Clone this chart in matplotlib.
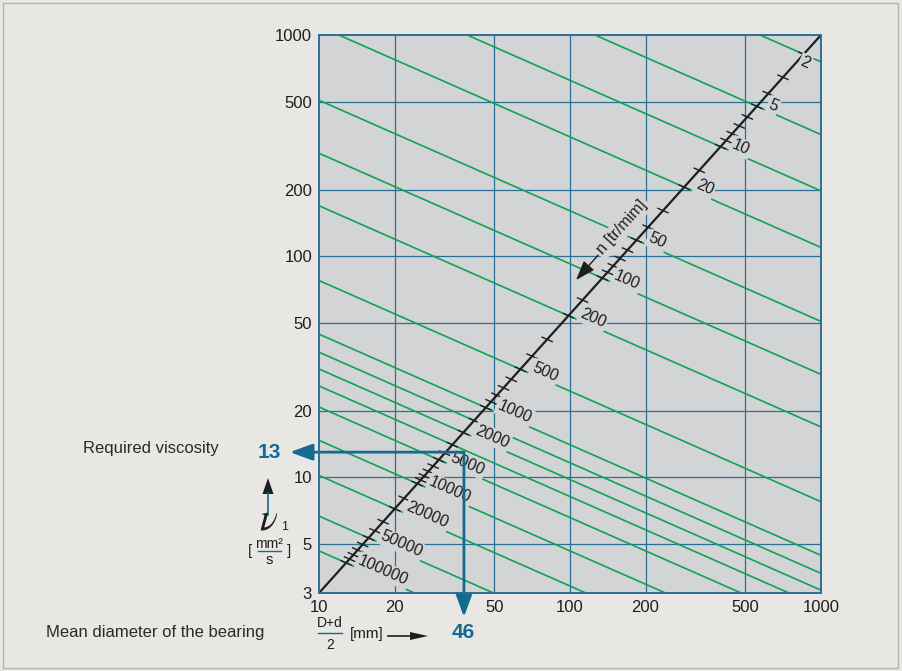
import numpy as np
import matplotlib
matplotlib.use("Agg")
import matplotlib.pyplot as plt
from matplotlib import font_manager
from matplotlib.lines import Line2D
from matplotlib.patches import Rectangle, Polygon

W, H = 902, 671

# axes
x_ticks = [10, 20, 50, 100, 200, 500, 1000]
y_ticks = [3, 5, 10, 20, 50, 100, 200, 500, 1000]
x_grid = [20, 50, 100, 200, 500]
y_grid = [5, 10, 20, 50, 100, 200, 500]

# speed lines n [tr/min] : viscosity read where each line meets dm = 10 mm
speed_n = [2, 5, 10, 20, 50, 100, 200, 500, 1000, 1500, 2000, 3000,
           5000, 10000, 20000, 50000, 100000]
speed_nu10 = [7560, 3546, 1973, 1095, 507, 292, 169, 77.6, 44.4, 36.8, 30.9,
              25.9, 20.8, 14.7, 10.2, 6.68, 4.65]
speed_slope = -0.5
speed_labels = [2, 5, 10, 20, 50, 100, 200, 500, 1000, 2000, 5000, 10000,
                20000, 50000, 100000]
speed_minor = [3, 4, 6, 7, 8, 9, 15, 30, 40, 60, 70, 80, 90, 150, 300, 400,
               600, 700, 800, 900, 1500, 3000, 4000, 6000, 7000, 8000, 9000,
               15000, 30000, 40000, 60000, 70000, 80000, 90000]

# the n scale runs corner to corner
scale_dm = [10, 1000]
scale_nu = [3, 1000]

# worked example
example_dm = 37.8
example_nu = 13
example_dm_text = "46"
example_nu_text = "13"

bg = "#e8e7e3"
plot_bg = "#d3d4d6"
grid_c = "#2c6f94"
green = "#0ea352"
blue = "#156a90"
ink = "#1e1e1e"

names = {f.name for f in font_manager.fontManager.ttflist}
narrow = "Liberation Sans Narrow" if "Liberation Sans Narrow" in names else "Liberation Sans"
label_size = 14 if narrow == "Liberation Sans Narrow" else 12
plt.rcParams["font.family"] = ["Liberation Sans", "DejaVu Sans"]
plt.rcParams["mathtext.fontset"] = "stix"

fig = plt.figure(figsize=(W / 100, H / 100), dpi=100, facecolor=bg)
ax = fig.add_axes([319 / W, 1 - 593 / H, (821 - 319) / W, (593 - 35) / H])
ax.set_facecolor(plot_bg)
ax.set_xscale("log")
ax.set_yscale("log")
ax.set_xlim(10, 1000)
ax.set_ylim(3, 1000)
ax.set_xticks(x_ticks)
ax.set_xticklabels([str(v) for v in x_ticks])
ax.set_yticks(y_ticks)
ax.set_yticklabels([str(v) for v in y_ticks])
ax.minorticks_off()
ax.tick_params(length=0, labelsize=12, colors=ink)
ax.tick_params(axis="x", pad=5)
ax.tick_params(axis="y", pad=5)
for s in ax.spines.values():
    s.set_color(grid_c)
    s.set_linewidth(1.4)
    s.set_zorder(6)
for v in x_grid:
    ax.axvline(v, color=grid_c, lw=0.9, zorder=1)
for v in y_grid:
    ax.axhline(v, color=grid_c, lw=0.9, zorder=1)

# constant speed lines
for nu10 in speed_nu10:
    ax.plot([10, 1000], [nu10, nu10 * (1000 / 10) ** speed_slope],
            color=green, lw=1.2, zorder=2)

# n scale
ax.plot(scale_dm, scale_nu, color=ink, lw=1.6, zorder=3)

a = np.log10(scale_nu[0])
s_diag = (np.log10(scale_nu[1]) - a) / (np.log10(scale_dm[1]) - np.log10(scale_dm[0]))


def on_scale(n):
    lnu = np.interp(np.log10(n), np.log10(speed_n), np.log10(speed_nu10))
    u = (lnu - a) / (s_diag - speed_slope)
    return 10 ** (np.log10(scale_dm[0]) + u), 10 ** (a + s_diag * u)


def green_dir(dm, nu):
    p0 = ax.transData.transform((dm, nu))
    p1 = ax.transData.transform((dm * 10, nu * 10 ** speed_slope))
    d = p1 - p0
    return p0, d / np.hypot(*d)


for n in speed_labels + speed_minor:
    dm, nu = on_scale(n)
    p0, d = green_dir(dm, nu)
    seg = ax.transData.inverted().transform([p0 - 5.5 * d, p0 + 5.5 * d])
    ax.plot(seg[:, 0], seg[:, 1], color=ink, lw=1.0, zorder=3)

label_offset = {2: (-2, -5)}
for n in speed_labels:
    dm, nu = on_scale(n)
    p0, d = green_dir(dm, nu)
    ang = np.degrees(np.arctan2(d[1], d[0]))
    ax.annotate(str(n), xy=(dm, nu), xytext=label_offset.get(n, (9, 2)),
                textcoords="offset points", rotation=ang, rotation_mode="anchor",
                ha="left", va="center", fontsize=11.5, color=ink, zorder=4,
                bbox=dict(boxstyle="square,pad=0.1", fc=plot_bg, ec="none"))

# scale title and arrow
p0 = ax.transData.transform((scale_dm[0], scale_nu[0]))
p1 = ax.transData.transform((scale_dm[1], scale_nu[1]))
diag_ang = np.degrees(np.arctan2(p1[1] - p0[1], p1[0] - p0[0]))
ax.text(161, 135, "n [tr/mim]", rotation=diag_ang, rotation_mode="anchor",
        ha="center", va="center", fontsize=11.5, color=ink, zorder=4,
        bbox=dict(boxstyle="square,pad=0.15", fc=plot_bg, ec="none"))
ax.annotate("", xy=(105.7, 78), xytext=(129.3, 101),
            arrowprops=dict(arrowstyle="-|>,head_length=1.0,head_width=0.35",
                            color=ink, lw=1.0, mutation_scale=12,
                            shrinkA=0, shrinkB=0), zorder=4)

# worked example arrows
arrow_kw = dict(arrowstyle="-|>,head_length=1.15,head_width=0.42", color=blue,
                lw=2.0, mutation_scale=12, shrinkA=0, shrinkB=0)
ax.annotate("", xy=(-0.058, example_nu), xycoords=("axes fraction", "data"),
            xytext=(example_dm, example_nu), textcoords="data",
            arrowprops=arrow_kw, annotation_clip=False, zorder=5)
ax.annotate("", xy=(example_dm, -0.043), xycoords=("data", "axes fraction"),
            xytext=(example_dm, example_nu), textcoords="data",
            arrowprops=arrow_kw, annotation_clip=False, zorder=5)


def fp(x, y):
    return x / W, 1 - y / H


# left side
fig.text(*fp(151, 449), "Required viscosity", ha="center", va="center",
         fontsize=label_size, family=narrow, color="#2a2a2a")
fig.text(*fp(269, 452), example_nu_text, ha="center", va="center",
         fontsize=15, weight="bold", color=blue)
fig.add_artist(Line2D([268 / W] * 2, [1 - 515 / H, 1 - 493 / H], color=blue, lw=1.2))
fig.add_artist(Polygon([fp(262.5, 494), fp(273.5, 494), fp(268, 478)],
                       closed=True, fc=ink, ec="none", transform=fig.transFigure))
fig.text(*fp(269, 529), r"$\nu$", fontsize=27, ha="center", va="baseline", color=ink)
fig.text(*fp(285, 527), "1", fontsize=9, ha="center", va="center", color=ink)
fig.text(*fp(250, 551), "[", fontsize=11, ha="center", va="center", color=ink)
fig.text(*fp(289, 551), "]", fontsize=11, ha="center", va="center", color=ink)
fig.text(*fp(269, 544), "mm\u00b2", fontsize=10, ha="center", va="center", color=ink)
fig.add_artist(Line2D([258 / W, 281 / W], [1 - 551 / H] * 2, color=blue, lw=1.0))
fig.text(*fp(269, 560), "s", fontsize=10.5, ha="center", va="center", color=ink)

# bottom
fig.text(*fp(46, 632), "Mean diameter of the bearing", ha="left", va="center",
         fontsize=label_size, family=narrow, color="#2a2a2a")
fig.text(*fp(330, 623), "D+d", fontsize=10, ha="center", va="center", color=ink)
fig.add_artist(Line2D([318 / W, 342 / W], [1 - 633 / H] * 2, color=blue, lw=1.0))
fig.text(*fp(330, 645), "2", fontsize=10, ha="center", va="center", color=ink)
fig.text(*fp(367, 634), "[mm]", fontsize=11, ha="center", va="center", color=ink)
fig.add_artist(Line2D([388 / W, 412 / W], [1 - 636 / H] * 2, color=ink, lw=1.2))
fig.add_artist(Polygon([fp(410, 632), fp(410, 640), fp(428, 636)],
                       closed=True, fc=ink, ec="none", transform=fig.transFigure))
fig.text(*fp(463, 633), example_dm_text, ha="center", va="center",
         fontsize=15, weight="bold", color=blue)

fig.add_artist(Rectangle((3 / W, 3 / H), (W - 7) / W, (H - 6) / H,
                         transform=fig.transFigure, fill=False,
                         ec="#b3b3b3", lw=1.0))

fig.savefig("out.png", dpi=100, facecolor=bg)
